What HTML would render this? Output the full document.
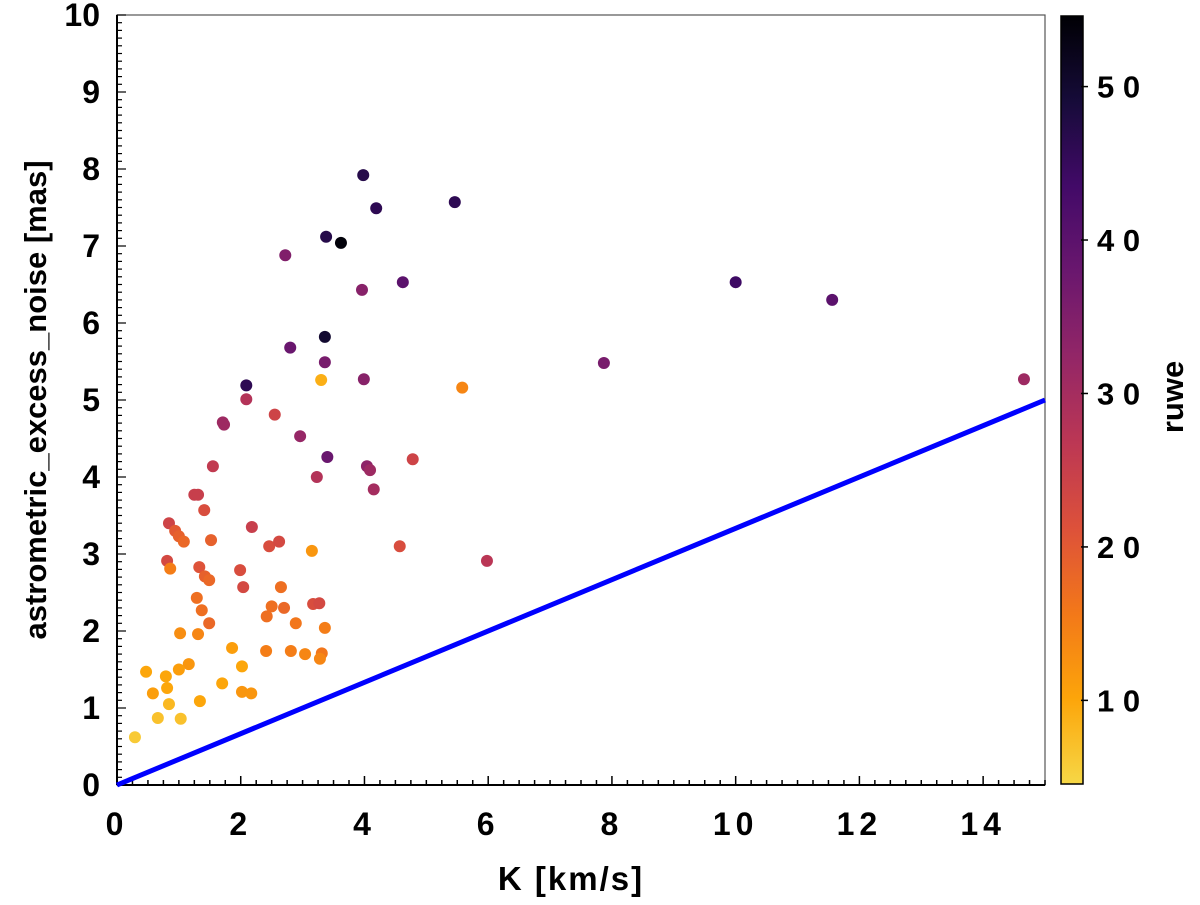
<!DOCTYPE html>
<html><head><meta charset="utf-8"><style>
body{margin:0;background:#fff;}
svg text{font-family:"Liberation Sans",sans-serif;font-weight:bold;fill:#000;}
</style></head><body>
<svg id="chart" width="1200" height="900" viewBox="0 0 1200 900" xmlns="http://www.w3.org/2000/svg">
<defs>
<linearGradient id="cbgrad" x1="0" y1="1" x2="0" y2="0">
<stop offset="0" stop-color="#f6d746"/><stop offset="0.111" stop-color="#fca50a"/><stop offset="0.222" stop-color="#f37819"/><stop offset="0.333" stop-color="#dd513a"/><stop offset="0.444" stop-color="#bc3754"/><stop offset="0.556" stop-color="#932667"/><stop offset="0.667" stop-color="#6a176e"/><stop offset="0.778" stop-color="#420a68"/><stop offset="0.889" stop-color="#160b39"/><stop offset="1" stop-color="#000004"/>
</linearGradient>
</defs>
<g id="axes"></g>
<g id="marks"></g>
</svg>
<script>
const kVals=[3.98,4.19,5.46,3.38,3.62,2.72,3.96,4.62,10.0,11.56,3.36,2.80,3.36,7.87,2.09,3.99,3.30,14.66,2.09,5.58,2.55,1.71,1.73,2.96,3.40,4.04,4.09,1.55,4.78,3.23,4.15,
1.25,1.31,1.41,0.84,0.94,1.0,1.08,1.52,2.18,2.46,2.62,3.15,0.81,0.86,1.33,1.42,1.49,1.99,2.04,2.65,1.29,2.50,2.70,3.17,3.27,1.37,2.42,1.49,2.89,3.36,1.02,1.31,1.86,2.41,2.81,3.04,3.31,3.28,1.16,1.0,2.02,0.47,0.79,0.81,1.70,0.58,2.02,2.17,0.84,1.34,0.66,1.03,0.29,4.57,5.98];
const noiseVals=[7.92,7.49,7.57,7.12,7.04,6.88,6.43,6.53,6.53,6.30,5.82,5.68,5.49,5.48,5.19,5.27,5.26,5.27,5.01,5.16,4.81,4.71,4.68,4.53,4.26,4.14,4.09,4.14,4.23,4.0,3.84,
3.77,3.77,3.57,3.40,3.30,3.23,3.16,3.18,3.35,3.10,3.16,3.04,2.91,2.81,2.83,2.71,2.66,2.79,2.57,2.57,2.43,2.32,2.30,2.35,2.36,2.27,2.19,2.10,2.10,2.04,1.97,1.96,1.78,1.74,1.74,1.70,1.71,1.64,1.57,1.5,1.54,1.47,1.41,1.26,1.32,1.19,1.21,1.19,1.05,1.09,0.87,0.86,0.62,3.10,2.91];
const ruweVals=[47,46,46,47,54,35,34,40,44,40,50,38,36,36,46,34,9,31,28,14,24,31,31,32,38,33,31,26,24,28,30,
25,25,22,24,20,19,18,19,25,22,23,12,23,15,21,19,18,22,23,17,17,17,18,22,23,17,17,18,16,15,13,14,11,15,15,14,16,14,12,11,10,10,10,10,10,11,12,12,8,10,7,7,6,22,27];
const xTicks=[0,2,4,6,8,10,12,14];
const yTicks=[0,1,2,3,4,5,6,7,8,9,10];
const cbTicks=[10,20,30,40,50];
const lineK=[0,15], lineY=[0,5];

const X0=117,X1=1045,Y0=785,Y1=15;
const xs=v=>X0+(v-0)/15*(X1-X0);
const ys=v=>Y0-(v-0)/10*(Y0-Y1);
const CB0=4.55,CB1=54.6,CBT=16,CBB=784,CBX=1061,CBW=22;
const cs=v=>CBB-(v-CB0)/(CB1-CB0)*(CBB-CBT);
const stops=["#000004","#160b39","#420a68","#6a176e","#932667","#bc3754","#dd513a","#f37819","#fca50a","#f6d746"];
function hx(c){return [1,3,5].map(i=>parseInt(c.substr(i,2),16));}
function color(v){let t=1-(v-CB0)/(CB1-CB0);t=Math.max(0,Math.min(1,t))*(stops.length-1);const i=Math.min(stops.length-2,Math.floor(t)),f=t-i;const a=hx(stops[i]),b=hx(stops[i+1]);return "rgb("+a.map((x,j)=>Math.round(x+(b[j]-x)*f)).join(",")+")";}
const NS="http://www.w3.org/2000/svg";
function mk(tag,attrs,parent,txt){const e=document.createElementNS(NS,tag);for(const k in attrs)e.setAttribute(k,attrs[k]);if(txt!==undefined)e.textContent=txt;parent.appendChild(e);return e;}
const ax=document.getElementById('axes'),mg=document.getElementById('marks');
const frame=mk('rect',{x:X0,y:Y1,width:X1-X0,height:Y0-Y1,fill:'none',stroke:'#555','stroke-width':1.2},ax);


mk('line',{x1:X0,y1:Y1,x2:X0,y2:Y0,stroke:'#000','stroke-width':2},ax);
mk('line',{x1:X0,y1:Y0,x2:X1,y2:Y0,stroke:'#000','stroke-width':2},ax);
for(let v=0;v<=15.001;v+=0.25){const maj=Math.abs(v/2-Math.round(v/2))<1e-6;mk('line',{x1:xs(v),y1:Y0,x2:xs(v),y2:Y0-(maj?9:5),stroke:'#000','stroke-width':1.5},ax);}
for(let v=0;v<=10.001;v+=0.1){const maj=Math.abs(v-Math.round(v))<1e-6;mk('line',{x1:X0,y1:ys(v),x2:X0+(maj?9:5),y2:ys(v),stroke:'#000','stroke-width':1.2},ax);}
xTicks.forEach(v=>{const t=mk('text',{x:xs(v),y:835,'font-size':32,'text-anchor':'middle','letter-spacing':5},ax,String(v));

});
yTicks.forEach(v=>{const t=mk('text',{x:100,y:ys(v)+11,'font-size':32,'text-anchor':'end'},ax,String(v));

});
const xt=mk('text',{x:X0+(X1-X0)/2-10,y:890,'font-size':33,'text-anchor':'middle','letter-spacing':2},ax,'K [km/s]');


const yt=mk('text',{x:0,y:0,'font-size':31,'text-anchor':'middle',transform:'translate(46,400) rotate(-90)'},ax,'astrometric_excess_noise [mas]');


const ln=mk('line',{x1:xs(lineK[0]),y1:ys(lineY[0]),x2:xs(lineK[1]),y2:ys(lineY[1]),stroke:'#0000ff','stroke-width':5},mg);


kVals.forEach((k,i)=>{const c=mk('circle',{cx:xs(k),cy:ys(noiseVals[i]),r:6,fill:color(ruweVals[i])},mg);

});
const cb=mk('rect',{x:CBX,y:CBT,width:CBW,height:CBB-CBT,fill:'url(#cbgrad)',stroke:'#000','stroke-width':1.5},ax);


cbTicks.forEach(v=>{mk('line',{x1:CBX+CBW-2,y1:cs(v),x2:CBX+CBW+5,y2:cs(v),stroke:'#000','stroke-width':1.5},ax);
const t=mk('text',{x:1097,y:cs(v)+11,'font-size':31},ax,String(v).split('').join(' '));

});
const ct=mk('text',{x:0,y:0,'font-size':31,'text-anchor':'middle',transform:'translate(1183,397) rotate(-90)'},ax,'ruwe');


</script>
</body></html>
